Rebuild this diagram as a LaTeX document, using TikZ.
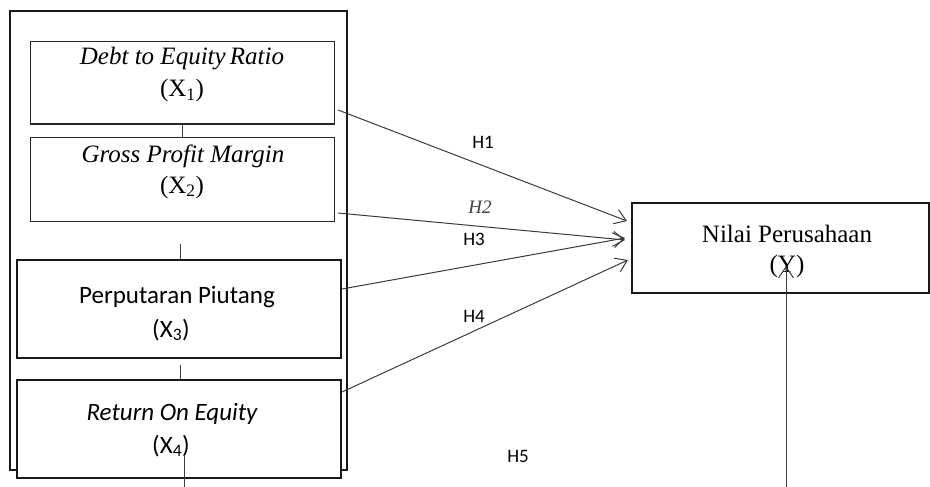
\documentclass[tikz,border=0pt]{standalone}
\usepackage{fontspec}
\setmainfont{Liberation Serif}
\newfontfamily\calibri{Carlito}
\usetikzlibrary{arrows.meta}
\definecolor{linegray}{HTML}{3A3A3A}
\begin{document}
\begin{tikzpicture}[x=1pt,y=-1pt,
  thinbox/.style={draw=black!85,line width=1pt,inner sep=0pt,fill=white},
  thickbox/.style={draw=black!90,line width=2pt,inner sep=0pt,fill=white},
  link/.style={draw=linegray,line width=1pt},
  hyp/.style={draw=linegray,line width=1pt,-{Straight Barb[length=11pt,width=15pt,line width=1pt]}},
  sertext/.style={font=\fontsize{25}{30}\selectfont,anchor=base,inner sep=0pt},
  sertextit/.style={font=\fontsize{25}{30}\selectfont\itshape,anchor=base,inner sep=0pt},
  caltext/.style={font=\calibri\fontsize{25}{30}\selectfont,anchor=base,inner sep=0pt},
  caltextit/.style={font=\calibri\fontsize{25}{30}\selectfont\itshape,anchor=base,inner sep=0pt},
  hlabel/.style={font=\calibri\fontsize{19}{22}\selectfont,anchor=base,inner sep=0pt},
  hlabelser/.style={font=\fontsize{19}{22}\selectfont\itshape,anchor=base,inner sep=0pt,text=black!75}
]
\useasboundingbox (0,0) rectangle (930,487);
% outer frame
\node[thickbox,fill=none,minimum width=337pt,minimum height=459pt] (outer) at (178.5,240.5) {};
% variable boxes
\node[thinbox,minimum width=304pt,minimum height=82pt] (x1) at (182,83) {};
\node[thinbox,minimum width=304pt,minimum height=84pt] (x2) at (182,179) {};
\node[thickbox,minimum width=324pt,minimum height=98pt] (x3) at (179,309) {};
\node[thickbox,minimum width=324pt,minimum height=98pt] (x4) at (179,429) {};
\node[thickbox,minimum width=297pt,minimum height=90pt] (y) at (780.5,248) {};
% texts
\node[sertextit] (t1) at (182,65) {Debt to Equity\,Ratio};
\node[sertext] (t1b) at (182,97) {(X\textsubscript{1})};
\node[sertextit] (t2) at (183,162) {Gross Profit Margin};
\node[sertext] (t2b) at (182,193) {(X\textsubscript{2})};
\node[caltext] (t3) at (177,303) {Perputaran Piutang};
\node[caltext] (t3b) at (171,337) {(X\textsubscript{3})};
\node[caltextit] (t4) at (172,420) {Return On Equity};
\node[caltext] (t4b) at (171,453) {(X\textsubscript{4})};
\node[sertext] (ty) at (787,242) {Nilai Perusahaan};
\node[sertext] (tyb) at (787,272) {(Y)};
% small connectors between boxes
\draw[link] (x1.south) -- (x2.north);
\coordinate (c23) at (180,244);
\draw[link] (c23) -- (c23 |- x3.north);
\coordinate (c34) at (180,365);
\draw[link] (c34) -- (c34 |- x4.north);
\coordinate (c4a) at (184,455);
\coordinate (c4b) at (184,487);
\draw[link] (c4a) -- (c4b);
% hypothesis arrows
\coordinate (s1) at (338,110); \coordinate (e1) at (627,221);
\coordinate (s2) at (338,213); \coordinate (e2) at (625,240);
\coordinate (s3) at (342,289); \coordinate (e3) at (625,238);
\coordinate (s4) at (342,392); \coordinate (e4) at (628,260);
\coordinate (s5) at (786,487); \coordinate (e5) at (786,266);
\draw[hyp] (s1) -- (e1);
\draw[hyp] (s2) -- (e2);
\draw[hyp] (s3) -- (e3);
\draw[hyp] (s4) -- (e4);
\draw[hyp] (s5) -- (e5);
% labels
\node[hlabel] (h1) at (483,148) {H1};
\node[hlabelser] (h2) at (480,213) {H2};
\node[hlabel] (h3) at (474,245) {H3};
\node[hlabel] (h4) at (474,322) {H4};
\node[hlabel] (h5) at (518,462) {H5};
\end{tikzpicture}
\end{document}
